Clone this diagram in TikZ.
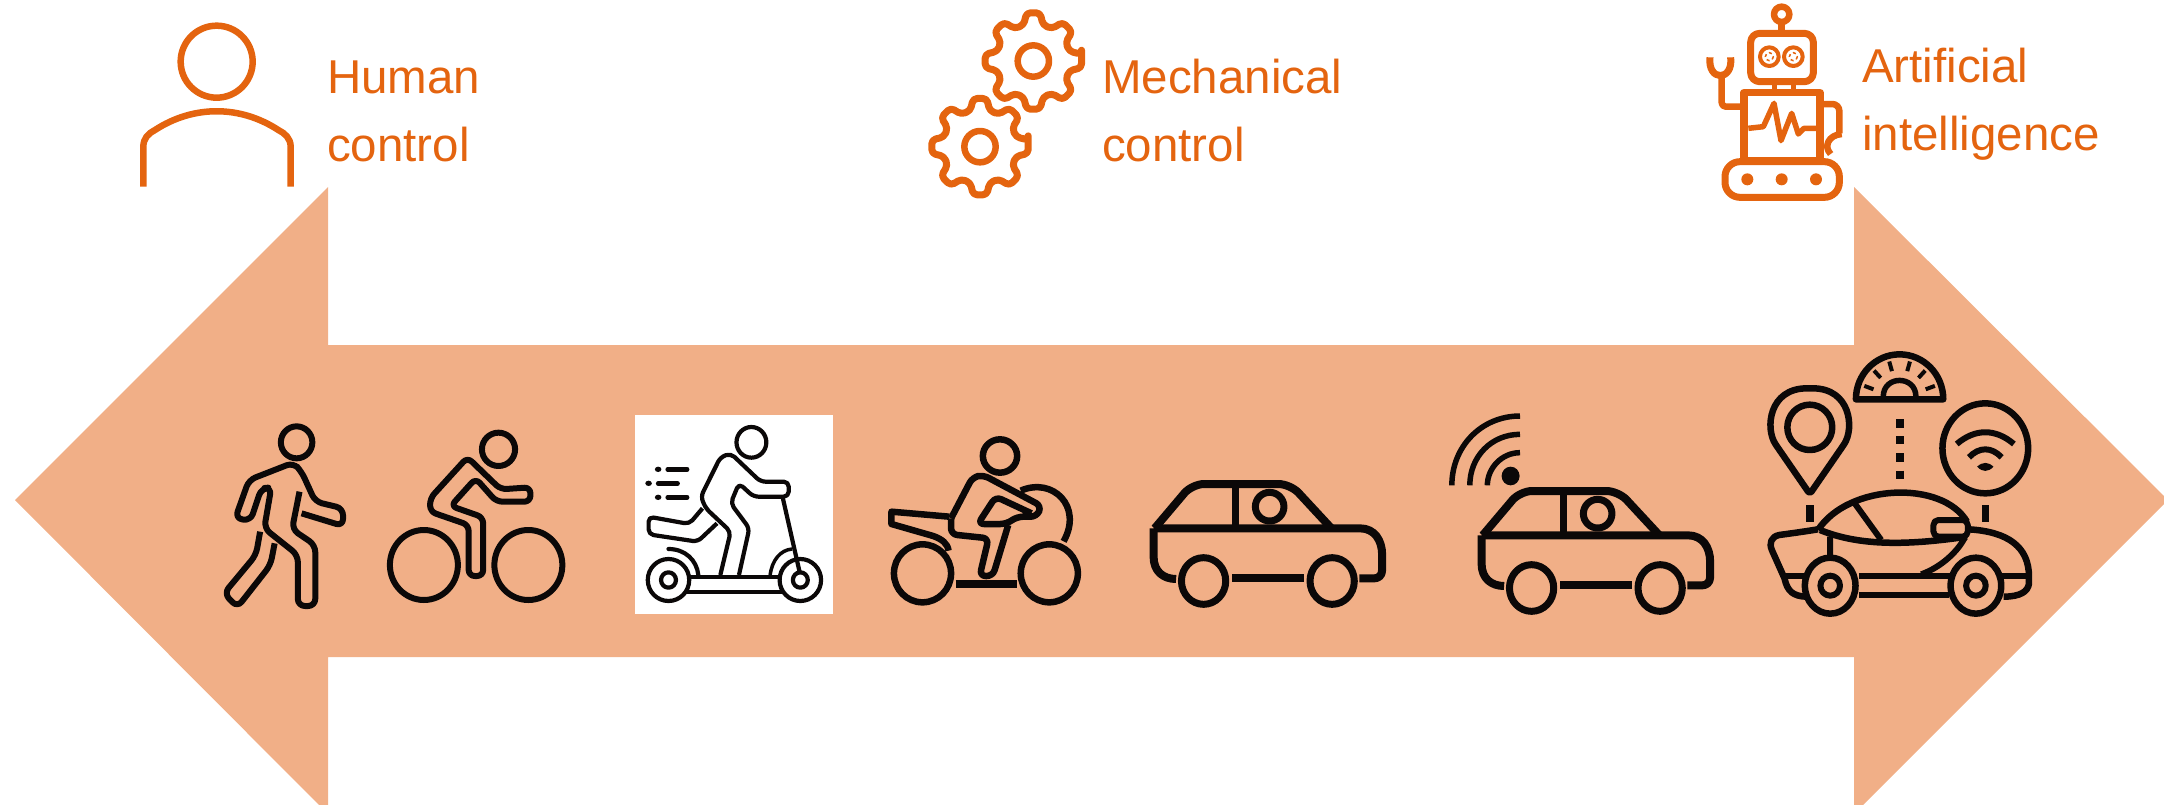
\documentclass[tikz,border=0pt]{standalone}
\usepackage{fontspec}
\setmainfont{Liberation Sans}
\definecolor{arrowfill}{HTML}{F1AF87}
\definecolor{ornge}{HTML}{E4640F}
\definecolor{ink}{HTML}{0B0808}
\tikzset{
  lbl/.style={text=ornge,font=\fontsize{47.5}{68}\selectfont,inner sep=0pt,align=left,anchor=base west},
  oline/.style={draw=ornge,line width=#1,line join=round},
  oline/.default=6.5pt,
  kline/.style={draw=ink,line width=#1,line join=round},
  kline/.default=6pt,
  zone/.style={shift={(100,0)},scale=0.33333},
  ztwo/.style={shift={(900,0)},scale=0.33333},
  zthree/.style={shift={(1680,0)},scale=0.33333},
  zfour/.style={shift={(200,400)},xscale=0.41459,yscale=0.33333},
  zfive/.style={shift={(860,400)},xscale=0.35714,yscale=0.33333},
  zsix/.style={shift={(1420,340)},xscale=0.40816,yscale=0.33333},
}
\newcommand{\mygear}[2]{%
  \draw[oline=7pt,rounded corners=4pt]
    ({#1+146*cos(-8)},{#2+146*sin(-8)})
    \foreach \a in {0,45,...,315}{
      -- ({#1+146*cos(\a+8)},{#2+146*sin(\a+8)})
      -- ({#1+112*cos(\a+15)},{#2+112*sin(\a+15)})
      -- ({#1+112*cos(\a+30)},{#2+112*sin(\a+30)})
      -- ({#1+146*cos(\a+37)},{#2+146*sin(\a+37)})
    } -- cycle;
  \draw[oline=6.5pt] (#1,#2) ellipse [x radius=47,y radius=47];
}
\newcommand{\carshape}{%
  \draw[kline=8pt,rounded corners=12pt] (825,385) -- (930,252) -- (1205,252) -- (1320,385);
  \draw[kline=8pt] (822,385) -- (1400,385) .. controls (1440,385) and (1462,420) .. (1462,465)
     -- (1462,510) .. controls (1462,528) and (1450,535) .. (1440,535) -- (1398,535);
  \draw[kline=8pt] (822,385) -- (822,470) .. controls (822,515) and (850,537) .. (885,537);
  \draw[kline=8pt] (1042,535) -- (1243,535);
  \draw[kline=7pt] (1052,255) -- (1052,385);
  \draw[kline=7pt] (1147,320) ellipse [x radius=40,y radius=43];
  \draw[kline=7pt] (962,543) ellipse [x radius=62,y radius=70];
  \draw[kline=7pt] (1322,543) ellipse [x radius=62,y radius=70];
}
\begin{document}
\begin{tikzpicture}[x=1pt,y=-1pt]
\useasboundingbox (0,0) rectangle (2164,804);
\clip (0,0) rectangle (2164,804);
% double arrow
\fill[arrowfill] (15,500) -- (328,187) -- (328,345) -- (1854,345) -- (1854,187) -- (2168,500)
  -- (1854,814) -- (1854,657) -- (328,657) -- (328,814) -- cycle;
% labels
\node[lbl] (human) at (327,161) {Human\\control};
\node[lbl] (mech) at (1102,161) {Mechanical\\control};
\node[lbl] (ai) at (1862,150) {Artificial\\intelligence};
% person
\begin{scope}[zone]
  \draw[oline] (350,185) ellipse [x radius=108,y radius=108];
  \draw[oline] (130,560) -- (130,440) .. controls (130,415) and (145,400) .. (165,390)
    .. controls (280,315) and (420,315) .. (535,390) .. controls (555,400) and (572,415) .. (572,440) -- (572,560);
\end{scope}
% gears
\begin{scope}[ztwo]
  \mygear{400}{183}
  \mygear{240}{440}
\end{scope}
% robot
\begin{scope}[zthree]
  \draw[oline=6.5pt] (305,43) ellipse [x radius=23,y radius=23];
  \draw[oline=6.5pt] (305,65) -- (305,100);
  \draw[oline=7pt,rounded corners=9pt] (212,100) rectangle (400,245);
  \draw[oline=4pt] (268,170) ellipse [x radius=28,y radius=28];
  \draw[oline=4pt] (340,170) ellipse [x radius=28,y radius=28];
  \draw[oline=1.5pt,dashed] (268,170) ellipse [x radius=12,y radius=12];
  \draw[oline=1.5pt,dashed] (340,170) ellipse [x radius=12,y radius=12];
  \draw[oline=5pt] (282,245) -- (282,278) (340,245) -- (340,278);
  \draw[oline=7.5pt] (192,278) rectangle (420,482);
  \draw[oline=7pt] (90,172) .. controls (82,245) and (160,245) .. (152,172);
  \draw[oline=6.5pt,rounded corners=4pt] (125,232) -- (125,320) -- (192,320);
  \draw[oline=6.5pt,rounded corners=7pt] (420,312) -- (478,312) -- (478,400);
  \draw[oline=6.5pt] (485,402) .. controls (445,405) and (430,440) .. (452,462);
  \draw[oline=5.5pt] (205,385) -- (250,380) -- (282,310) -- (303,422) -- (335,340) -- (355,402) -- (372,385) -- (415,385);
  \draw[oline=7pt,rounded corners=15pt] (135,485) rectangle (478,592);
  \fill[ornge] (202,538) ellipse [x radius=18,y radius=18];
  \fill[ornge] (305,538) ellipse [x radius=18,y radius=18];
  \fill[ornge] (408,538) ellipse [x radius=18,y radius=18];
\end{scope}
% walker and cyclist
\begin{scope}[zfour]
  \draw[kline] (233,127) ellipse [x radius=38,y radius=48];
  \draw[kline,rounded corners=7pt] (240,275) -- (222,388) -- (278,435) -- (278,618) -- (236,618) -- (236,465)
    -- (155,385) -- (172,262) -- (148,265) -- (122,362) -- (85,355) -- (118,240) -- (225,188) -- (245,215)
    -- (278,305) -- (345,325) -- (345,378) -- (245,340);
  \draw[kline,rounded corners=7pt] (145,395) -- (135,465) -- (58,580) -- (90,622) -- (170,495) -- (180,430);
  \draw[kline] (720,148) ellipse [x radius=40,y radius=50];
  \draw[kline] (540,495) ellipse [x radius=82,y radius=105];
  \draw[kline] (792,495) ellipse [x radius=82,y radius=105];
  \draw[kline,rounded corners=6pt] (665,235) -- (605,318) -- (683,352) -- (683,528) -- (648,528) -- (648,375)
    -- (555,335) -- (555,295) -- (645,172) -- (725,268) -- (797,262) -- (797,305) -- (715,305) -- cycle;
  % scooter
  \fill[white] (1049,45) rectangle (1527,642);
  \draw[kline=4.2pt] (1330,127) ellipse [x radius=36,y radius=46];
  \draw[kline=4.2pt,rounded corners=5pt] (1300,525) -- (1325,385) -- (1280,310) -- (1300,250) -- (1335,290)
    -- (1420,290) -- (1420,245) -- (1352,245) -- (1280,160) -- (1255,172) -- (1208,290) -- (1220,325)
    -- (1280,395) -- (1255,525);
  \draw[kline=4.2pt,rounded corners=5pt] (1212,325) -- (1180,372) -- (1082,350) -- (1082,403) -- (1200,425) -- (1247,370);
  \draw[kline=4.5pt,line cap=round] (1128,208) -- (1175,208) (1105,250) -- (1152,250) (1128,292) -- (1175,292);
  \fill[ink] (1105,208) ellipse [x radius=8,y radius=8];
  \fill[ink] (1082,250) ellipse [x radius=8,y radius=8];
  \fill[ink] (1105,292) ellipse [x radius=8,y radius=8];
  \draw[kline=4.2pt] (1130,540) ellipse [x radius=50,y radius=63];
  \draw[kline=4.2pt] (1130,540) ellipse [x radius=18,y radius=23];
  \draw[kline=4.2pt] (1448,540) ellipse [x radius=50,y radius=63];
  \draw[kline=4.2pt] (1448,540) ellipse [x radius=18,y radius=23];
  \draw[kline=4.2pt] (1178,530) -- (1400,530) (1170,575) -- (1408,575);
  \draw[kline=4.2pt,line cap=round] (1130,447) .. controls (1170,447) and (1198,480) .. (1202,525);
  \draw[kline=3.5pt] (1375,525) .. controls (1380,480) and (1400,450) .. (1428,447);
  \draw[kline=4.2pt] (1405,290) -- (1447,520);
\end{scope}
% motorcycle and first car
\begin{scope}[zfive]
  \draw[kline=6.5pt] (392,168) ellipse [x radius=48,y radius=50];
  \draw[kline=6.5pt] (175,520) ellipse [x radius=80,y radius=87];
  \draw[kline=6.5pt] (530,520) ellipse [x radius=80,y radius=87];
  \draw[kline=7.5pt] (268,552) -- (440,552);
  \draw[kline=6.5pt] (450,272) .. controls (540,230) and (625,320) .. (570,424);
  \draw[kline=6.5pt,rounded corners=6pt] (255,355) -- (315,232) -- (345,225) -- (508,318) -- (495,350) -- (440,350) -- (410,372) -- (330,372) -- (380,290) -- (480,340);
  \draw[kline=6.5pt,rounded corners=6pt] (255,355) -- (255,403) -- (360,415) -- (335,528) -- (372,528) -- (415,375);
  \draw[kline=6.5pt] (250,350) -- (88,335) -- (88,372) -- (205,408) .. controls (230,418) and (245,430) .. (248,452);
  \carshape
\end{scope}
% connected car
\begin{scope}[shift={(328,7)},zfive]
  \carshape
\end{scope}
% connected car's signal and autonomous car
\begin{scope}[zsix]
  \draw[kline=5.5pt] (245,228) .. controls (150,228) and (78,320) .. (78,436);
  \draw[kline=5.5pt] (245,283) .. controls (175,283) and (122,350) .. (122,436);
  \draw[kline=5.5pt] (245,338) .. controls (200,338) and (165,385) .. (165,436);
  \fill[ink] (222,408) ellipse [x radius=22,y radius=28];
  % pin
  \draw[kline=6.5pt,rounded corners=3pt] (955,462) -- (875,320) .. controls (845,265) and (855,145) .. (955,145)
    .. controls (1055,145) and (1065,265) .. (1035,320) -- cycle;
  \draw[kline=6.5pt] (955,262) ellipse [x radius=55,y radius=68];
  % gauge
  \draw[kline=6.5pt] (1068,178) .. controls (1068,103) and (1116,43) .. (1175,43) .. controls (1234,43) and (1282,103) .. (1282,178) -- cycle;
  \draw[kline=5.5pt] (1135,170) .. controls (1135,105) and (1215,105) .. (1215,170);
  \foreach \a in {20,47,74,106,133,160}{
    \draw[kline=4pt] ({1175+68*cos(\a)},{178-88*sin(\a)}) -- ({1175+92*cos(\a)},{178-118*sin(\a)});
  }
  \draw[kline=8pt] (1175,238) -- (1175,263) (1175,288) -- (1175,313) (1175,340) -- (1175,365) (1175,392) -- (1175,417);
  % wifi bubble
  \draw[kline=6.5pt] (1385,325) ellipse [x radius=105,y radius=135];
  \draw[kline=6pt] (1315,312) .. controls (1360,265) and (1410,265) .. (1455,312);
  \draw[kline=6pt] (1345,352) .. controls (1370,320) and (1400,320) .. (1425,352);
  \fill[ink] (1365,380) .. controls (1378,365) and (1392,365) .. (1405,380) .. controls (1392,397) and (1378,397) .. (1365,380) -- cycle;
  \draw[kline=7.5pt] (955,495) -- (955,545) (1385,495) -- (1385,545);
  % car body
  \draw[kline=6.5pt] (975,570) .. controls (1050,430) and (1280,420) .. (1340,545);
  \draw[kline=6.5pt] (975,568) .. controls (940,575) and (910,580) .. (880,585) .. controls (860,590) and (855,610) .. (862,630)
    -- (893,715) .. controls (900,755) and (915,768) .. (945,770);
  \draw[kline=6.5pt] (980,570) .. controls (1080,620) and (1200,615) .. (1340,590);
  \draw[kline=6.5pt] (1345,568) .. controls (1440,575) and (1492,620) .. (1492,710) -- (1492,730) .. controls (1490,755) and (1470,770) .. (1430,770);
  \draw[kline=6pt] (1065,490) -- (1130,600) (1005,590) -- (1005,655);
  \draw[kline=6pt,rounded corners=5pt] (1258,540) rectangle (1342,590);
  \draw[kline=6pt] (890,708) -- (950,708) (1075,708) -- (1300,708) (1420,708) -- (1492,708);
  \draw[kline=6pt] (1075,765) -- (1295,765);
  \draw[kline=6pt] (1228,703) .. controls (1280,680) and (1320,630) .. (1335,592);
  \draw[kline=6.5pt] (1005,737) ellipse [x radius=62,y radius=84];
  \draw[kline=6pt] (1005,737) ellipse [x radius=24,y radius=30];
  \draw[kline=6.5pt] (1362,737) ellipse [x radius=62,y radius=84];
  \draw[kline=6pt] (1362,737) ellipse [x radius=24,y radius=30];
\end{scope}
\end{tikzpicture}
\end{document}
